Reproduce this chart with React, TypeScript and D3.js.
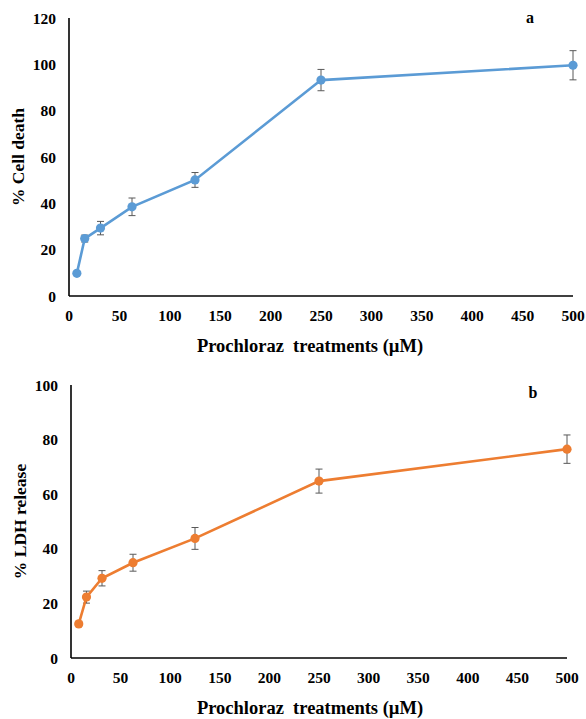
import React, { useEffect, useRef } from 'react';
import * as d3 from 'd3';

// prochloraz concentrations (µM)
const doses = [7.8, 15.6, 31.25, 62.5, 125, 250, 500];

// panel a: % cell death
const cellDeath = [9.8, 24.8, 29.3, 38.5, 50.1, 93.2, 99.6];
const cellDeathErr = [0.6, 1.5, 2.9, 3.8, 3.2, 4.6, 6.3];

// panel b: % LDH release
const ldhRelease = [12.5, 22.3, 29.2, 34.9, 43.8, 64.8, 76.5];
const ldhErr = [0.8, 2.2, 2.8, 3.1, 4.0, 4.4, 5.2];

const xTicks = [0, 50, 100, 150, 200, 250, 300, 350, 400, 450, 500];
const yTicksA = [0, 20, 40, 60, 80, 100, 120];
const yTicksB = [0, 20, 40, 60, 80, 100];

const FONT = '"Liberation Serif", "Times New Roman", serif';

const App = () => {
  const svgRef = useRef<SVGSVGElement>(null);

  useEffect(() => {
    const svg = d3.select(svgRef.current);
    svg.selectAll('*').remove();

    const drawPanel = (opts) => {
      const { values, errs, yMax, yTicks, color, left, right, top, bottom, letter, letterPos, yTitle, yTitleX, xTitleY } = opts;

      const x = d3.scaleLinear().domain([0, 500]).range([left, right]);
      const y = d3.scaleLinear().domain([0, yMax]).range([bottom, top]);
      const g = svg.append('g');

      // axes lines (no tick marks, like the excel export)
      g.append('line')
        .attr('x1', left).attr('x2', left)
        .attr('y1', top).attr('y2', bottom)
        .attr('stroke', '#000').attr('stroke-width', 1.6);
      g.append('line')
        .attr('x1', left).attr('x2', right)
        .attr('y1', bottom).attr('y2', bottom)
        .attr('stroke', '#000').attr('stroke-width', 1.6);

      g.selectAll('.ytick')
        .data(yTicks)
        .join('text')
        .attr('x', left - 13)
        .attr('y', d => y(d) + 5.5)
        .attr('text-anchor', 'end')
        .style('font-family', FONT)
        .style('font-weight', 'bold')
        .style('font-size', '15.5px')
        .text(d => d);

      g.selectAll('.xtick')
        .data(xTicks)
        .join('text')
        .attr('x', d => x(d))
        .attr('y', bottom + 25)
        .attr('text-anchor', 'middle')
        .style('font-family', FONT)
        .style('font-weight', 'bold')
        .style('font-size', '15.5px')
        .text(d => d);

      const pts = doses.map((d, i) => ({ dose: d, v: values[i], e: errs[i] }));

      // error bars
      const eb = g.selectAll('.err').data(pts).join('g');
      eb.append('line')
        .attr('x1', d => x(d.dose)).attr('x2', d => x(d.dose))
        .attr('y1', d => y(d.v - d.e)).attr('y2', d => y(d.v + d.e))
        .attr('stroke', '#595959').attr('stroke-width', 1);
      [-1, 1].forEach(s => {
        eb.append('line')
          .attr('x1', d => x(d.dose) - 3.5).attr('x2', d => x(d.dose) + 3.5)
          .attr('y1', d => y(d.v + s * d.e)).attr('y2', d => y(d.v + s * d.e))
          .attr('stroke', '#595959').attr('stroke-width', 1);
      });

      const line = d3.line()
        .x(d => x(d.dose))
        .y(d => y(d.v));

      g.append('path')
        .datum(pts)
        .attr('d', line)
        .attr('fill', 'none')
        .attr('stroke', color)
        .attr('stroke-width', 2.6);

      g.selectAll('.pt')
        .data(pts)
        .join('circle')
        .attr('cx', d => x(d.dose))
        .attr('cy', d => y(d.v))
        .attr('r', 4.6)
        .attr('fill', color);

      g.append('text')
        .attr('x', letterPos[0])
        .attr('y', letterPos[1])
        .attr('text-anchor', 'middle')
        .style('font-family', FONT)
        .style('font-weight', 'bold')
        .style('font-size', '16px')
        .text(letter);

      g.append('text')
        .attr('transform', `translate(${yTitleX},${(top + bottom) / 2}) rotate(-90)`)
        .attr('text-anchor', 'middle')
        .style('font-family', FONT)
        .style('font-weight', 'bold')
        .style('font-size', '17.5px')
        .text(yTitle);

      g.append('text')
        .attr('x', 310)
        .attr('y', xTitleY)
        .attr('text-anchor', 'middle')
        .style('font-family', FONT)
        .style('font-weight', 'bold')
        .style('font-size', '18.5px')
        .style('white-space', 'pre')
        .text('Prochloraz  treatments (µM)');
    };

    drawPanel({
      values: cellDeath, errs: cellDeathErr, yMax: 120, yTicks: yTicksA,
      color: '#5B9BD5', left: 69, right: 573, top: 18, bottom: 296,
      letter: 'a', letterPos: [530, 23], yTitle: '% Cell death', yTitleX: 24, xTitleY: 352,
    });

    drawPanel({
      values: ldhRelease, errs: ldhErr, yMax: 100, yTicks: yTicksB,
      color: '#ED7D31', left: 71, right: 567, top: 385, bottom: 658,
      letter: 'b', letterPos: [533, 398], yTitle: '% LDH release', yTitleX: 26, xTitleY: 714,
    });
  }, []);

  return (
    <svg
      ref={svgRef}
      width={586}
      height={719}
      style={{ position: 'absolute', left: 0, top: 0, background: '#fff' }}
    />
  );
};

export default App;
